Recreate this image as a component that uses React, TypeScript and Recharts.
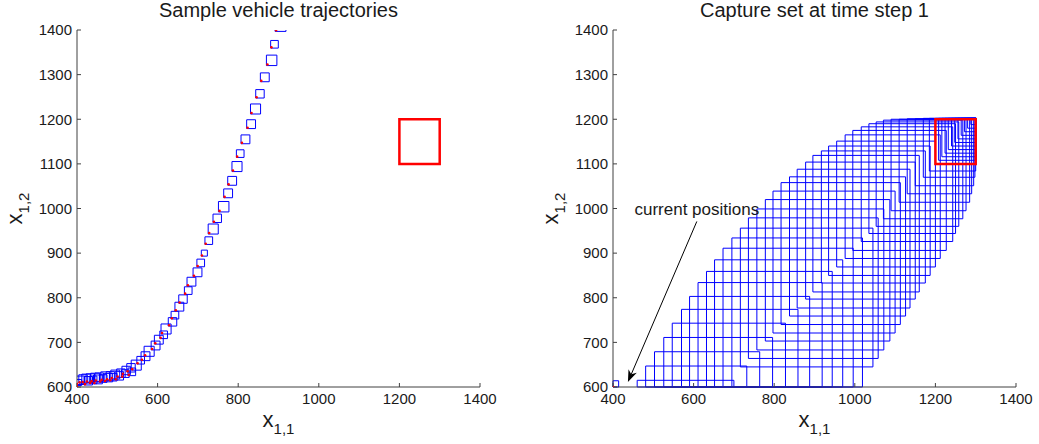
import React from 'react';
import { ComposedChart, XAxis, YAxis, ReferenceArea, ReferenceLine, Scatter, Label } from 'recharts';

const FONT = "'Liberation Sans', Arial, Helvetica, sans-serif";

// axes
const xTicks = [400, 600, 800, 1000, 1200, 1400];
const yTicks = [600, 700, 800, 900, 1000, 1100, 1200, 1300, 1400];
const xDomain = [400, 1400];
const yDomain = [600, 1400];

// target region
const targetX = [1200, 1300];
const targetY = [1100, 1200];

// current vehicle position and its box
const startX = [400];
const startY = [600];
const startBoxX = [400, 414];
const startBoxY = [600, 614];

// sampled trajectory: box centres and box widths (data units)
const trajX = [905, 890, 883, 866, 854, 843, 832, 818, 805, 797, 785, 775, 764, 748, 738, 727, 716, 707, 699, 684, 676, 663, 654, 643, 637, 621, 615, 603, 595, 579, 570, 558, 547, 534, 522, 509, 495, 483, 470, 455, 445, 433, 423, 415, 408, 404, 428, 440, 452, 465, 478, 490, 505, 520, 536];
const trajY = [1409, 1368, 1332, 1294, 1257, 1223, 1189, 1155, 1123, 1094, 1062, 1034, 1004, 978, 954, 928, 900, 878, 857, 836, 816, 797, 780, 761, 746, 730, 717, 706, 693, 680, 669, 660, 649, 643, 637, 631, 628, 625, 624, 622, 621, 620, 619, 618, 615, 610, 614, 616, 617, 619, 621, 622, 625, 630, 634];
const trajSize = [27, 19, 26, 22, 21, 25, 22, 22, 19, 25, 22, 22, 26, 21, 25, 19, 15, 19, 22, 22, 19, 21, 22, 19, 21, 25, 19, 22, 22, 25, 22, 19, 25, 21, 21, 21, 22, 21, 22, 21, 22, 21, 22, 21, 21, 15, 21, 19, 22, 19, 21, 19, 21, 19, 19];

// capture set boxes
const capLeft = [
  460, 481, 503, 526, 547, 570, 590, 611, 632, 652, 673, 695,
  716, 736, 757, 778, 797, 817, 838, 857, 878, 896, 917, 935, 955, 976, 995, 1016, 1035, 1053, 1071, 1090, 1110, 1130, 1150, 1170, 1185, 1200,
  1208, 1216, 1224, 1232, 1240, 1248, 1256, 1264, 1272, 1280, 1288,
];
const capRight = [
  700, 732, 764, 796, 828, 859, 888, 919, 944, 970, 996, 1019,
  1045, 1058, 1072, 1087, 1100, 1113, 1126, 1137, 1150, 1160, 1175, 1187, 1200, 1212, 1227, 1243, 1250, 1258, 1268, 1276, 1285, 1290, 1295, 1298, 1300, 1301,
  1301, 1301, 1301, 1301, 1301, 1301, 1301, 1301, 1301, 1301, 1301,
];
const capBottom = [
  600, 600, 600, 600, 600, 600, 600, 600, 600, 600, 600, 600,
  645, 664, 683, 703, 721, 740, 759, 777, 797, 813, 833, 850, 869, 888, 906, 926, 944, 960, 977, 995, 1014, 1033, 1051, 1070, 1084, 1100,
  1108, 1116, 1124, 1132, 1140, 1148, 1156, 1164, 1172, 1180, 1188,
];
const capTop = [
  615, 647, 679, 711, 743, 774, 803, 834, 859, 885, 911, 934,
  956, 979, 999, 1020, 1039, 1058, 1071, 1088, 1104, 1119, 1129, 1140, 1151, 1165, 1175, 1183, 1190, 1194, 1198, 1200, 1200, 1201, 1201, 1202, 1202, 1202,
  1202, 1202, 1202, 1202, 1202, 1202, 1202, 1202, 1202, 1202, 1202,
];

// annotation arrow (data coordinates)
const arrowFrom = [608, 971];
const arrowTo = [437, 611];

const W = 500;
const H = 444;
const MARGIN = { top: 30, right: 20, bottom: 0, left: 0 };
const BLUE = '#0000ff';
const RED = '#ff0000';
const AXIS = '#404040';
const TEXT = '#1a1a1a';

const trajDots = trajX.map((x, i) => ({ x: x - 0.4 * trajSize[i], y: trajY[i] - 0.36 * trajSize[i] }));
const startDots = startX.map((x, i) => ({ x, y: startY[i] }));

const RedDot = (props: any) => {
  const { cx, cy } = props;
  if (cx == null || cy == null) return null;
  return <circle cx={cx} cy={cy} r={1.3} fill={RED} />;
};

const XLabel = (props: any) => {
  const { x, y, width } = props.viewBox;
  return (
    <text x={x + width / 2} y={y + 40} textAnchor="middle" fontFamily={FONT} fill={TEXT}>
      <tspan fontSize={22}>x</tspan>
      <tspan fontSize={15} dy={7}>1,1</tspan>
    </text>
  );
};

const YLabel = (props: any) => {
  const { y, height } = props.viewBox;
  const cx = 22;
  const cy = y + height / 2;
  return (
    <text x={cx} y={cy} transform={`rotate(-90, ${cx}, ${cy})`} textAnchor="middle" fontFamily={FONT} fill={TEXT}>
      <tspan fontSize={22}>x</tspan>
      <tspan fontSize={15} dy={7}>1,2</tspan>
    </text>
  );
};

const ArrowShape = (props: any) => {
  const { x1, y1, x2, y2 } = props;
  const ang = Math.atan2(y2 - y1, x2 - x1);
  const len = 12;
  const half = 4.5;
  const bx = x2 - len * Math.cos(ang);
  const by = y2 - len * Math.sin(ang);
  const nx = x2 - len * 0.7 * Math.cos(ang);
  const ny = y2 - len * 0.7 * Math.sin(ang);
  const px = -Math.sin(ang) * half;
  const py = Math.cos(ang) * half;
  return (
    <g>
      <line x1={x1} y1={y1} x2={nx} y2={ny} stroke="#000" strokeWidth={1} />
      <polygon points={`${x2},${y2} ${bx + px},${by + py} ${nx},${ny} ${bx - px},${by - py}`} fill="#000" />
      <text x={x1} y={y1 - 6} textAnchor="middle" fontSize={17} fontFamily={FONT} fill={TEXT}>
        current positions
      </text>
    </g>
  );
};

const axes = () => [
  <XAxis
    key="x"
    type="number"
    dataKey="x"
    domain={xDomain}
    ticks={xTicks}
    interval={0}
    allowDataOverflow
    height={57}
    stroke={AXIS}
    tickSize={-4}
    tickMargin={10}
    tick={{ fill: TEXT, fontSize: 15, fontFamily: FONT }}
  >
    <Label content={XLabel} />
  </XAxis>,
  <YAxis
    key="y"
    type="number"
    dataKey="y"
    domain={yDomain}
    ticks={yTicks}
    interval={0}
    allowDataOverflow
    width={77}
    stroke={AXIS}
    tickSize={-4}
    tickMargin={9}
    tick={{ fill: TEXT, fontSize: 15, fontFamily: FONT }}
  >
    <Label content={YLabel} />
  </YAxis>,
];

function TrajectoryPanel() {
  return (
    <ComposedChart width={W} height={H} margin={MARGIN}>
      {axes()}
      {trajX.map((x, i) => (
        <ReferenceArea
          key={`t${i}`}
          x1={x - trajSize[i] / 2}
          x2={x + trajSize[i] / 2}
          y1={trajY[i] - trajSize[i] * 0.45}
          y2={trajY[i] + trajSize[i] * 0.45}
          fill="none"
          fillOpacity={0}
          stroke={BLUE}
          strokeWidth={1}
          ifOverflow="hidden"
        />
      ))}
      <ReferenceArea
        x1={targetX[0]}
        x2={targetX[1]}
        y1={targetY[0]}
        y2={targetY[1]}
        fill="none"
        fillOpacity={0}
        stroke={RED}
        strokeWidth={2.5}
        ifOverflow="visible"
      />
      <Scatter data={trajDots} shape={RedDot} isAnimationActive={false} />
      <Scatter data={startDots} shape={RedDot} isAnimationActive={false} />
    </ComposedChart>
  );
}

function CapturePanel() {
  return (
    <ComposedChart width={W} height={H} margin={MARGIN}>
      {axes()}
      {capLeft.map((x, i) => (
        <ReferenceArea
          key={`c${i}`}
          x1={x}
          x2={capRight[i]}
          y1={capBottom[i]}
          y2={capTop[i]}
          fill="none"
          fillOpacity={0}
          stroke={BLUE}
          strokeWidth={1}
          ifOverflow="visible"
        />
      ))}
      <ReferenceArea
        x1={startBoxX[0]}
        x2={startBoxX[1]}
        y1={startBoxY[0]}
        y2={startBoxY[1]}
        fill="none"
        fillOpacity={0}
        stroke={BLUE}
        strokeWidth={1}
        ifOverflow="visible"
      />
      <ReferenceArea
        x1={targetX[0]}
        x2={targetX[1]}
        y1={targetY[0]}
        y2={targetY[1]}
        fill="none"
        fillOpacity={0}
        stroke={RED}
        strokeWidth={2.5}
        ifOverflow="visible"
      />
      <ReferenceLine
        segment={[
          { x: arrowFrom[0], y: arrowFrom[1] },
          { x: arrowTo[0], y: arrowTo[1] },
        ]}
        ifOverflow="visible"
        shape={ArrowShape}
      />
      <Scatter data={startDots} shape={RedDot} isAnimationActive={false} />
    </ComposedChart>
  );
}

export default function App() {
  return (
    <div style={{ position: 'absolute', left: 0, top: 0, width: 1039, height: 444, background: '#fff' }}>
      <div style={{ position: 'absolute', left: 0, top: 0 }}>
        <TrajectoryPanel />
      </div>
      <div style={{ position: 'absolute', left: 536, top: 0 }}>
        <CapturePanel />
      </div>
      <svg width={1039} height={30} style={{ position: 'absolute', left: 0, top: 0, pointerEvents: 'none' }}>
        <text x={278.5} y={17} textAnchor="middle" fontSize={20} fontFamily={FONT} fill={TEXT}>
          Sample vehicle trajectories
        </text>
        <text x={814.5} y={17} textAnchor="middle" fontSize={20} fontFamily={FONT} fill={TEXT}>
          Capture set at time step 1
        </text>
      </svg>
    </div>
  );
}
